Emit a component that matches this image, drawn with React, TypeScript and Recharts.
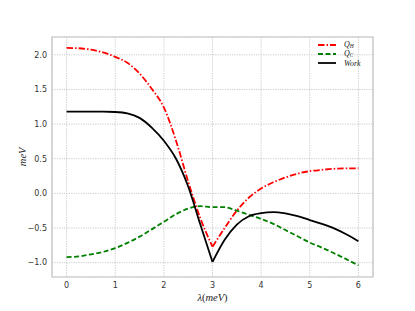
import React from "react";
import { LineChart, Line, XAxis, YAxis, CartesianGrid, Legend, ReferenceArea } from "recharts";

// lambda (meV) sample points
const lambdaValues = [
  0, 0.25, 0.5, 0.75, 1, 1.25, 1.5, 1.75, 2, 2.25, 2.5, 2.75, 3,
  3.25, 3.5, 3.75, 4, 4.25, 4.5, 4.75, 5, 5.25, 5.5, 5.75, 6,
];
const qHot = [
  2.1, 2.095, 2.075, 2.035, 1.97, 1.885, 1.73, 1.51, 1.24, 0.76, 0.17, -0.36, -0.77,
  -0.5, -0.25, -0.06, 0.07, 0.16, 0.23, 0.285, 0.32, 0.34, 0.355, 0.36, 0.36,
];
const qCold = [
  -0.92, -0.91, -0.88, -0.845, -0.79, -0.715, -0.625, -0.52, -0.41, -0.3, -0.22, -0.185, -0.2,
  -0.2, -0.25, -0.31, -0.37, -0.44, -0.53, -0.62, -0.71, -0.785, -0.865, -0.95, -1.04,
];
const work = [
  1.18, 1.18, 1.18, 1.18, 1.175, 1.155, 1.09, 0.95, 0.76, 0.5, 0.1, -0.45, -0.99,
  -0.67, -0.45, -0.33, -0.285, -0.27, -0.29, -0.33, -0.385, -0.44, -0.505, -0.59, -0.69,
];

// the cusp where Q_H and Work turn around
const CUSP = 3;

const xTicks = [0, 1, 2, 3, 4, 5, 6];
const yTicks = [-1, -0.5, 0, 0.5, 1, 1.5, 2];

// split the cusped series so each side is smoothed on its own
const data = lambdaValues.map((x, i) => ({
  x,
  qHotL: x <= CUSP ? qHot[i] : null,
  qHotR: x >= CUSP ? qHot[i] : null,
  qCold: qCold[i],
  workL: x <= CUSP ? work[i] : null,
  workR: x >= CUSP ? work[i] : null,
}));

const X_DOMAIN: [number, number] = [-0.3, 6.3];
const Y_DOMAIN: [number, number] = [-1.2075, 2.2575];

const mathFont = "'Liberation Serif', 'DejaVu Serif', serif";
const tickFont = "'DejaVu Sans', sans-serif";

const RED = "#ff0000";
const GREEN = "#008000";
const BLACK = "#000000";
const DASHDOT = "6.5 2 1.5 2";
const DASHED = "5 2.5";

const subStyle: React.CSSProperties = { fontSize: 5.5, lineHeight: "5px", position: "relative", top: 1 };

const legendRows = [
  { key: "qHot", color: RED, dash: DASHDOT, label: <><i>Q</i><i style={subStyle}>H</i></> },
  { key: "qCold", color: GREEN, dash: DASHED, label: <><i>Q</i><i style={subStyle}>C</i></> },
  { key: "work", color: BLACK, dash: undefined, label: <i>Work</i> },
];

function LegendBox() {
  return (
    <div style={{ fontFamily: mathFont, fontSize: 8, color: "#222" }}>
      {legendRows.map((r) => (
        <div key={r.key} style={{ display: "flex", alignItems: "center", height: 9.3, lineHeight: "9.3px" }}>
          <svg width={18} height={6} style={{ marginRight: 8 }}>
            <line x1={0} y1={3} x2={18} y2={3} stroke={r.color} strokeWidth={1.8} strokeDasharray={r.dash} />
          </svg>
          <span style={{ lineHeight: "9px" }}>{r.label}</span>
        </div>
      ))}
    </div>
  );
}

const fmt = (v: number) => v.toFixed(1).replace("-", "\u2212");

export default function App() {
  return (
    <div style={{ position: "absolute", left: 0, top: 0, width: 415, height: 311, background: "#fff" }}>
      <LineChart width={415} height={311} data={data} margin={{ top: 37, right: 42, left: 0, bottom: 0 }}>
        <ReferenceArea
          x1={X_DOMAIN[0]}
          x2={X_DOMAIN[1]}
          y1={Y_DOMAIN[0]}
          y2={Y_DOMAIN[1]}
          fill="none"
          stroke="#c4c4c4"
          strokeWidth={1.2}
        />
        <CartesianGrid stroke="#bdbdbd" strokeDasharray="1.2 1.2" strokeWidth={0.8} />
        <XAxis
          dataKey="x"
          type="number"
          domain={X_DOMAIN}
          ticks={xTicks}
          allowDataOverflow
          height={34}
          axisLine={false}
          tickLine={false}
          tickSize={4}
          tickMargin={1}
          tick={{ fontSize: 8, fill: "#333", fontFamily: tickFont }}
          label={{
            content: () => (
              <text x={212.5} y={300.5} textAnchor="middle" fontFamily={mathFont} fontSize={10.5} fill="#222">
                <tspan fontStyle="italic">λ</tspan>
                <tspan>(</tspan>
                <tspan fontStyle="italic">meV</tspan>
                <tspan>)</tspan>
              </text>
            ),
          }}
        />
        <YAxis
          type="number"
          domain={Y_DOMAIN}
          ticks={yTicks}
          allowDataOverflow
          width={52}
          axisLine={false}
          tickLine={false}
          tickSize={4}
          tickMargin={1}
          tickFormatter={fmt}
          tick={{ fontSize: 8, fill: "#333", fontFamily: tickFont }}
          label={{
            content: () => (
              <text
                x={26}
                y={156.8}
                transform="rotate(-90 26 156.8)"
                textAnchor="middle"
                fontFamily={mathFont}
                fontStyle="italic"
                fontSize={10.5}
                fill="#222"
              >
                meV
              </text>
            ),
          }}
        />
        <Line type="monotone" dataKey="qHotL" stroke={RED} strokeWidth={1.8} strokeDasharray={DASHDOT} dot={false} isAnimationActive={false} />
        <Line type="monotone" dataKey="qHotR" stroke={RED} strokeWidth={1.8} strokeDasharray={DASHDOT} dot={false} isAnimationActive={false} />
        <Line type="monotone" dataKey="qCold" stroke={GREEN} strokeWidth={1.8} strokeDasharray={DASHED} dot={false} isAnimationActive={false} />
        <Line type="monotone" dataKey="workL" stroke={BLACK} strokeWidth={1.8} dot={false} isAnimationActive={false} />
        <Line type="monotone" dataKey="workR" stroke={BLACK} strokeWidth={1.8} dot={false} isAnimationActive={false} />
        <Legend
          layout="vertical"
          align="center"
          verticalAlign="middle"
          content={() => <LegendBox />}
          wrapperStyle={{ left: 318, top: 40, width: 60 }}
        />
      </LineChart>
    </div>
  );
}
